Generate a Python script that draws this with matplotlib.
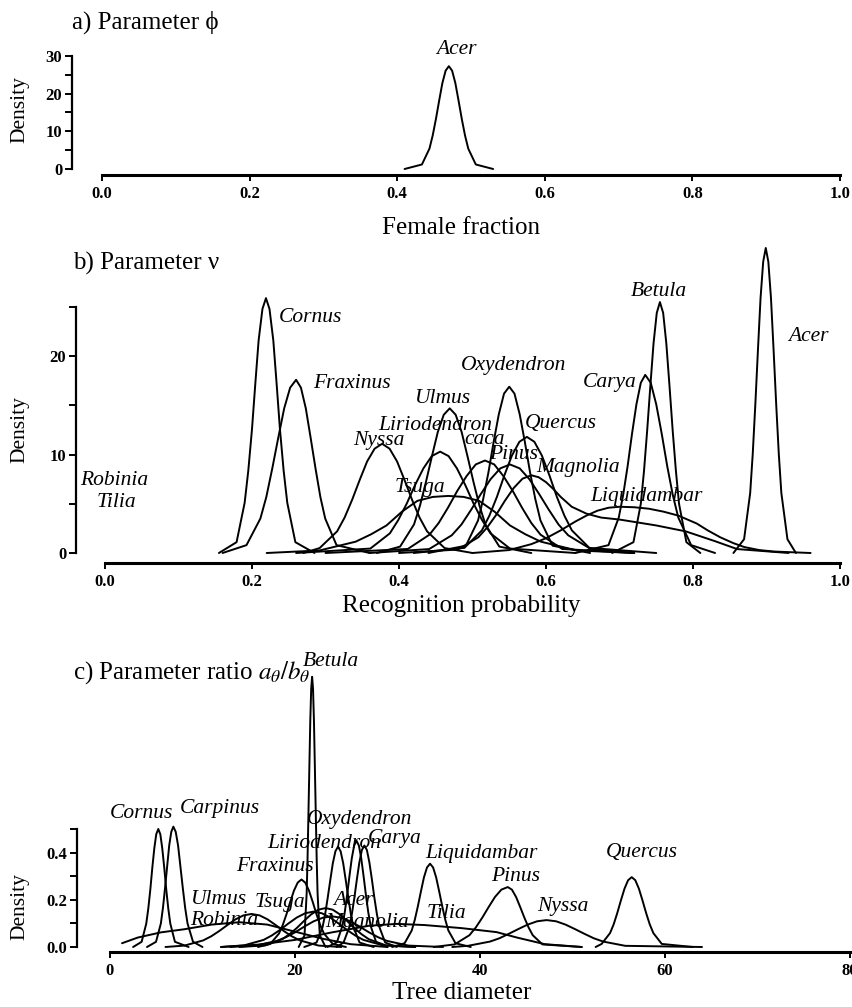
import matplotlib.pyplot as plt

plt.rcParams['font.family'] = ['Liberation Serif', 'DejaVu Serif']
plt.rcParams['mathtext.fontset'] = 'stix'

W, H = 853, 1007

# ---- panel a: female fraction (phi) ----
a_species = ["Acer"]
a_x = [[0.41, 0.4335, 0.4437, 0.4481, 0.4525, 0.4569, 0.4612, 0.4656, 0.47, 0.4744, 0.4788,
        0.4831, 0.4875, 0.4919, 0.4963, 0.5065, 0.53]]
a_y = [[0, 1.2, 5.4, 8.9, 13.3, 18.2, 22.8, 26.1, 27.3, 26.1, 22.8, 18.2, 13.3, 8.9, 5.4, 1.2, 0]]

# ---- panel b: recognition probability (nu) ----
b_species = ["Cornus", "Fraxinus", "Nyssa", "Tsuga", "Liriodendron", "Ulmus", "caca",
             "Oxydendron", "Pinus", "Quercus", "Magnolia", "Liquidambar", "Carya",
             "Betula", "Acer"]
b_x = [
    [0.155, 0.179, 0.190, 0.195, 0.200, 0.2046, 0.209, 0.2142, 0.219, 0.2238, 0.229, 0.2334,
     0.238, 0.243, 0.248, 0.259, 0.285],
    [0.16, 0.1925, 0.2114, 0.2195, 0.2276, 0.2357, 0.2438, 0.2519, 0.26, 0.2666, 0.2732, 0.2798,
     0.2864, 0.293, 0.2996, 0.315, 0.36],
    [0.27, 0.292, 0.3158, 0.326, 0.3362, 0.3464, 0.3566, 0.3668, 0.377, 0.3872, 0.3974, 0.4076,
     0.4178, 0.428, 0.4382, 0.462, 0.5],
    [0.22, 0.292, 0.341, 0.362, 0.383, 0.404, 0.425, 0.446, 0.467, 0.488, 0.509, 0.53, 0.551,
     0.572, 0.593, 0.642, 0.72],
    [0.26, 0.361, 0.3876, 0.399, 0.4104, 0.4218, 0.4332, 0.4446, 0.456, 0.4674, 0.4788, 0.4902,
     0.5016, 0.513, 0.5244, 0.551, 0.64],
    [0.37, 0.4015, 0.4204, 0.4285, 0.4366, 0.4447, 0.4528, 0.4609, 0.469, 0.4771, 0.4852, 0.4933,
     0.5014, 0.5095, 0.5176, 0.5365, 0.58],
    [0.30, 0.412, 0.4414, 0.454, 0.4666, 0.4792, 0.4918, 0.5044, 0.517, 0.5296, 0.5422, 0.5548,
     0.5674, 0.58, 0.5926, 0.622, 0.72],
    [0.44, 0.491, 0.5075, 0.5146, 0.5217, 0.5288, 0.5358, 0.5429, 0.55, 0.5571, 0.5642, 0.5712,
     0.5783, 0.5854, 0.5925, 0.609, 0.66],
    [0.36, 0.441, 0.4718, 0.485, 0.4982, 0.5114, 0.5246, 0.5378, 0.551, 0.5642, 0.5774, 0.5906,
     0.6038, 0.617, 0.6302, 0.661, 0.72],
    [0.42, 0.489, 0.5128, 0.523, 0.5332, 0.5434, 0.5536, 0.5638, 0.574, 0.5842, 0.5944, 0.6046,
     0.6148, 0.625, 0.6352, 0.659, 0.75],
    [0.40, 0.48, 0.508, 0.52, 0.532, 0.544, 0.556, 0.568, 0.58, 0.59, 0.60, 0.61, 0.62, 0.635,
     0.655, 0.675, 0.70, 0.75, 0.79, 0.83, 0.86, 0.93],
    [0.50, 0.55, 0.58, 0.60, 0.62, 0.64, 0.655, 0.67, 0.685, 0.70, 0.72, 0.74, 0.76, 0.78, 0.805,
     0.82, 0.837, 0.855, 0.87, 0.89, 0.91, 0.96],
    [0.64, 0.685, 0.699, 0.705, 0.711, 0.717, 0.723, 0.729, 0.735, 0.7425, 0.75, 0.7575, 0.765,
     0.7725, 0.78, 0.7975, 0.83],
    [0.69, 0.719, 0.729, 0.7333, 0.7376, 0.742, 0.7463, 0.7507, 0.755, 0.7594, 0.7637, 0.768,
     0.7724, 0.7768, 0.781, 0.791, 0.81],
    [0.855, 0.8695, 0.8778, 0.8813, 0.8848, 0.8884, 0.8919, 0.8955, 0.899, 0.9025, 0.9061,
     0.9096, 0.9132, 0.9167, 0.9202, 0.9285, 0.94],
]
b_y = [
    [0, 1.1, 5.1, 8.4, 12.6, 17.3, 21.6, 24.8, 25.9, 24.8, 21.6, 17.3, 12.6, 8.4, 5.1, 1.1, 0],
    [0, 0.8, 3.5, 5.7, 8.6, 11.7, 14.7, 16.8, 17.6, 16.8, 14.7, 11.7, 8.6, 5.7, 3.5, 0.8, 0],
    [0, 0.5, 2.2, 3.6, 5.4, 7.4, 9.3, 10.6, 11.1, 10.6, 9.3, 7.4, 5.4, 3.6, 2.2, 0.5, 0],
    [0, 0.26, 1.15, 1.9, 2.8, 4.2, 5.3, 5.7, 5.8, 5.7, 5.3, 4.2, 2.8, 1.9, 1.15, 0.26, 0],
    [0, 0.45, 2.0, 3.35, 5.0, 6.9, 8.6, 9.85, 10.3, 9.85, 8.6, 6.9, 5.0, 3.35, 2.0, 0.45, 0],
    [0, 0.65, 2.9, 4.8, 7.2, 9.8, 12.3, 14.05, 14.7, 14.05, 12.3, 9.8, 7.2, 4.8, 2.9, 0.65, 0],
    [0, 0.41, 1.86, 3.05, 4.6, 6.3, 7.8, 9.0, 9.4, 9.0, 7.8, 6.3, 4.6, 3.05, 1.86, 0.41, 0],
    [0, 0.74, 3.3, 5.5, 8.2, 11.3, 14.1, 16.2, 16.9, 16.2, 14.1, 11.3, 8.2, 5.5, 3.3, 0.74, 0],
    [0, 0.4, 1.8, 2.9, 4.4, 6.0, 7.5, 8.6, 9.0, 8.6, 7.5, 6.0, 4.4, 2.9, 1.8, 0.4, 0],
    [0, 0.52, 2.3, 3.8, 5.7, 7.9, 9.9, 11.3, 11.8, 11.3, 9.9, 7.9, 5.7, 3.8, 2.3, 0.52, 0],
    [0, 0.35, 1.6, 2.6, 3.85, 5.3, 6.6, 7.55, 7.9, 7.7, 7.2, 6.5, 5.7, 4.7, 4.0, 3.6, 3.4, 2.8,
     2.2, 1.2, 0.4, 0],
    [0, 0.3, 0.9, 1.5, 2.3, 3.2, 3.8, 4.3, 4.6, 4.7, 4.65, 4.5, 4.2, 3.8, 3.0, 2.3, 1.6, 1.0,
     0.6, 0.3, 0.15, 0],
    [0, 0.8, 3.6, 5.9, 8.8, 12.1, 15.1, 17.3, 18.1, 17.3, 15.1, 12.1, 8.8, 5.9, 3.6, 0.8, 0],
    [0, 1.1, 5.0, 8.3, 12.4, 17.0, 21.3, 24.4, 25.5, 24.4, 21.3, 17.0, 12.4, 8.3, 5.0, 1.1, 0],
    [0, 1.4, 6.1, 10.1, 15.1, 20.7, 25.9, 29.6, 31.0, 29.6, 25.9, 20.7, 15.1, 10.1, 6.1, 1.4, 0],
]
b_labels = ["Cornus", "Fraxinus", "Nyssa", "Liriodendron", "Ulmus", "Oxydendron", "Quercus",
            "caca", "Pinus", "Magnolia", "Tsuga", "Liquidambar", "Carya", "Betula", "Acer",
            "Robinia", "Tilia"]
b_lab_x = [0.280, 0.336, 0.372, 0.450, 0.458, 0.556, 0.620, 0.517, 0.556, 0.643, 0.428,
           0.736, 0.686, 0.754, 0.957, 0.012, 0.015]
b_lab_y = [23.9, 17.2, 11.4, 13.0, 15.7, 19.1, 13.2, 11.5, 10.0, 8.7, 6.7, 5.7, 17.3, 26.6,
           22.0, 7.4, 5.1]

# ---- panel c: parameter ratio (tree diameter) ----
c_species = ["Cornus", "Carpinus", "Robinia", "Ulmus", "Fraxinus", "Betula", "Tsuga", "Acer",
             "Magnolia", "Liriodendron", "Oxydendron", "Carya", "Tilia", "Liquidambar",
             "Pinus", "Nyssa", "Quercus"]
c_x = [
    [2.5, 3.42, 3.92, 4.14, 4.36, 4.57, 4.79, 5.0, 5.22, 5.44, 5.65, 5.87, 6.08, 6.30, 6.52,
     7.02, 8.5],
    [4.0, 4.975, 5.5, 5.725, 5.95, 6.175, 6.4, 6.625, 6.85, 7.105, 7.36, 7.615, 7.87, 8.125,
     8.38, 8.975, 10.0],
    [1.3, 3, 5.5, 8, 11, 14, 17, 20, 23, 26, 30],
    [6, 8.05, 10.08, 10.95, 11.82, 12.69, 13.56, 14.43, 15.3, 16.17, 17.04, 17.91, 18.78, 19.65,
     20.52, 22.55, 25],
    [16, 17.33, 18.27, 18.675, 19.08, 19.485, 19.89, 20.295, 20.7, 21.105, 21.51, 21.915, 22.32,
     22.725, 23.13, 24.08, 25.5],
    [20.4, 21.03, 21.26, 21.355, 21.45, 21.553, 21.65, 21.751, 21.85, 21.949, 22.05, 22.147,
     22.25, 22.345, 22.44, 22.68, 23.3],
    [12, 14.5, 16.6, 17.5, 18.4, 19.3, 20.2, 21.1, 22, 22.9, 23.8, 24.7, 25.6, 26.5, 27.4,
     29.5, 33],
    [14, 16.8, 18.62, 19.4, 20.18, 20.96, 21.74, 22.52, 23.3, 24.08, 24.86, 25.64, 26.42, 27.2,
     27.98, 29.8, 33],
    [13, 15.75, 18.06, 19.05, 20.04, 21.03, 22.02, 23.01, 24, 24.99, 25.98, 26.97, 27.96,
     28.95, 29.94, 32.25, 36],
    [21, 22.33, 22.98, 23.255, 23.53, 23.813, 24.09, 24.371, 24.65, 24.929, 25.21, 25.487,
     25.77, 26.045, 26.32, 26.98, 28.5],
    [23.5, 24.53, 25.12, 25.375, 25.63, 25.885, 26.14, 26.395, 26.65, 26.905, 27.16, 27.415,
     27.67, 27.925, 28.18, 28.78, 30],
    [24.5, 25.25, 25.88, 26.15, 26.42, 26.69, 26.96, 27.23, 27.5, 27.77, 28.04, 28.31, 28.58,
     28.85, 29.12, 29.75, 31],
    [12, 16, 20, 24, 28, 31, 34, 38, 41.8, 44, 47, 51],
    [30.5, 31.85, 32.62, 32.95, 33.28, 33.61, 33.94, 34.27, 34.6, 34.93, 35.26, 35.59, 35.92,
     36.25, 36.58, 37.35, 39],
    [35, 37.25, 38.86, 39.55, 40.24, 40.93, 41.62, 42.31, 43, 43.45, 43.9, 44.35, 44.8, 45.25,
     45.7, 46.75, 51],
    [37, 38.7, 41.08, 42.1, 43.12, 44.14, 45.16, 46.18, 47.2, 48.22, 49.24, 50.26, 51.28, 52.3,
     53.32, 55.7, 64],
    [52.5, 53.15, 54.06, 54.45, 54.84, 55.23, 55.62, 56.01, 56.4, 56.79, 57.18, 57.57, 57.96,
     58.35, 58.74, 59.65, 63],
]
c_y = [
    [0, .022, .099, .163, .244, .334, .418, .478, .50, .478, .418, .334, .244, .163, .099, .022, 0],
    [0, .022, .10, .166, .25, .34, .43, .488, .51, .488, .43, .34, .25, .166, .10, .022, 0],
    [0.016, 0.04, 0.062, 0.075, 0.095, 0.105, 0.095, 0.065, 0.035, 0.012, 0],
    [0, .006, .028, .0455, .068, .093, .117, .134, .14, .134, .117, .093, .068, .0455, .028,
     .006, 0],
    [0, .013, .057, .093, .139, .191, .239, .273, .286, .273, .239, .191, .139, .093, .057,
     .013, 0],
    [0, .05, .227, .372, .558, .764, .956, 1.095, 1.145, 1.095, .956, .764, .558, .372, .227,
     .05, 0],
    [0, .007, .03, .049, .073, .1, .125, .143, .15, .143, .125, .1, .073, .049, .03, .007, 0],
    [0, .007, .033, .054, .08, .11, .138, .158, .165, .158, .138, .11, .08, .054, .033, .007, 0],
    [0, .006, .026, .042, .063, .087, .109, .124, .13, .124, .109, .087, .063, .042, .026,
     .006, 0],
    [0, .019, .084, .138, .207, .283, .355, .406, .425, .406, .355, .283, .207, .138, .084,
     .019, 0],
    [0, .02, .089, .146, .219, .30, .376, .43, .45, .43, .376, .30, .219, .146, .089, .02, 0],
    [0, .019, .085, .14, .209, .287, .359, .411, .43, .411, .359, .287, .209, .14, .085, .019, 0],
    [0, 0.01, 0.03, 0.062, 0.09, 0.098, 0.093, 0.08, 0.063, 0.04, 0.012, 0],
    [0, .016, .07, .115, .172, .235, .295, .337, .353, .337, .295, .235, .172, .115, .07,
     .016, 0],
    [0, .011, .05, .083, .124, .169, .212, .243, .254, .243, .212, .169, .124, .083, .05,
     .011, 0],
    [0, .005, .023, .037, .056, .076, .095, .109, .114, .109, .095, .076, .056, .037, .023,
     .005, 0],
    [0, .013, .059, .096, .144, .197, .247, .283, .296, .283, .247, .197, .144, .096, .059,
     .013, 0],
]
c_labels = ["Betula", "Cornus", "Carpinus", "Oxydendron", "Liriodendron", "Carya", "Fraxinus",
            "Ulmus", "Tsuga", "Robinia", "Acer", "Magnolia", "Liquidambar", "Pinus", "Tilia",
            "Nyssa", "Quercus"]
c_lab_x = [23.9, 3.4, 11.9, 27.0, 23.2, 30.8, 17.8, 11.7, 18.4, 12.3, 26.3, 27.8, 40.2, 43.8,
           36.4, 49.0, 57.5]
c_lab_y = [1.21, 0.565, 0.585, 0.54, 0.44, 0.46, 0.34, 0.20, 0.19, 0.114, 0.198, 0.105, 0.395,
           0.30, 0.143, 0.173, 0.40]

fig = plt.figure(figsize=(W / 100, H / 100), dpi=100)


def add_ax(x0, x1, y_top, y_bot):
    return fig.add_axes([x0 / W, 1 - y_bot / H, (x1 - x0) / W, (y_bot - y_top) / H])


def style(ax, xlim, ylim, xt, xtl, yt, ytl, left_out, bottom_out):
    ax.set_xlim(*xlim)
    ax.set_ylim(*ylim)
    ax.patch.set_visible(False)
    ax.spines['top'].set_visible(False)
    ax.spines['right'].set_visible(False)
    ax.spines['left'].set_position(('outward', left_out))
    ax.spines['bottom'].set_position(('outward', bottom_out))
    ax.spines['left'].set_bounds(yt[0], yt[-1])
    ax.spines['bottom'].set_bounds(xt[0], xt[-1])
    ax.spines['left'].set_linewidth(1.6)
    ax.spines['bottom'].set_linewidth(2.2)
    ax.set_xticks(xt)
    ax.set_xticklabels(xtl, fontsize=12, fontweight='bold')
    ax.set_yticks(yt)
    ax.set_yticklabels(ytl, fontsize=12, fontweight='bold')
    ax.tick_params(axis='y', length=5, width=1.4, pad=2)
    ax.tick_params(axis='x', length=4, width=1.4, pad=4)


def curves(ax, xs_list, ys_list):
    for xs, ys in zip(xs_list, ys_list):
        ax.plot(xs, ys, color='black', lw=1.4, clip_on=False,
                solid_joinstyle='round', solid_capstyle='round')


lab_kw = dict(fontsize=15.5, style='italic', ha='center', va='center')

# panel a
ax = add_ax(102, 840, 56, 169)
curves(ax, a_x, a_y)
style(ax, (0, 1), (0, 30), [0, 0.2, 0.4, 0.6, 0.8, 1.0], ["0.0", "0.2", "0.4", "0.6", "0.8", "1.0"],
      [0, 5, 10, 15, 20, 25, 30], ["0", "", "10", "", "20", "", "30"], 21.6, 4.5)
ax.text(0.48, 31.8, a_species[0], **lab_kw)

# panel b
ax = add_ax(105, 840, 553 - 32 * 9.84, 553)
curves(ax, b_x, b_y)
style(ax, (0, 1), (0, 32), [0, 0.2, 0.4, 0.6, 0.8, 1.0], ["0.0", "0.2", "0.4", "0.6", "0.8", "1.0"],
      [0, 5, 10, 15, 20, 25], ["0", "", "10", "", "20", ""], 20.9, 7.2)
for t, x, y in zip(b_labels, b_lab_x, b_lab_y):
    ax.text(x, y, t, **lab_kw)

# panel c
ax = add_ax(110, 850, 947 - 1.2 * 236, 947)
curves(ax, c_x, c_y)
style(ax, (0, 80), (0, 1.2), [0, 20, 40, 60, 80], ["0", "20", "40", "60", "80"],
      [0, 0.1, 0.2, 0.3, 0.4, 0.5], ["0.0", "", "0.2", "", "0.4", ""], 23.8, 3.6)
for t, x, y in zip(c_labels, c_lab_x, c_lab_y):
    ax.text(x, y, t, **lab_kw)


def ftext(x, y, s, **kw):
    fig.text(x / W, 1 - y / H, s, **kw)


ftext(72, 22, "a) Parameter \u03d5", fontsize=18, va='center', ha='left')
ftext(73, 263, "b) Parameter \u03bd", fontsize=18, va='center', ha='left')
ftext(73, 673, r"c) Parameter ratio $a_\theta/b_\theta$", fontsize=18, va='center', ha='left')

for yy in (110, 430, 907):
    ftext(20, yy, "Density", fontsize=15.5, rotation=90, va='center', ha='center')

ftext(461, 228, "Female fraction", fontsize=18, ha='center', va='center')
ftext(461, 606, "Recognition probability", fontsize=18, ha='center', va='center')
ftext(462, 993, "Tree diameter", fontsize=18, ha='center', va='center')

fig.savefig("out.png", dpi=100)
